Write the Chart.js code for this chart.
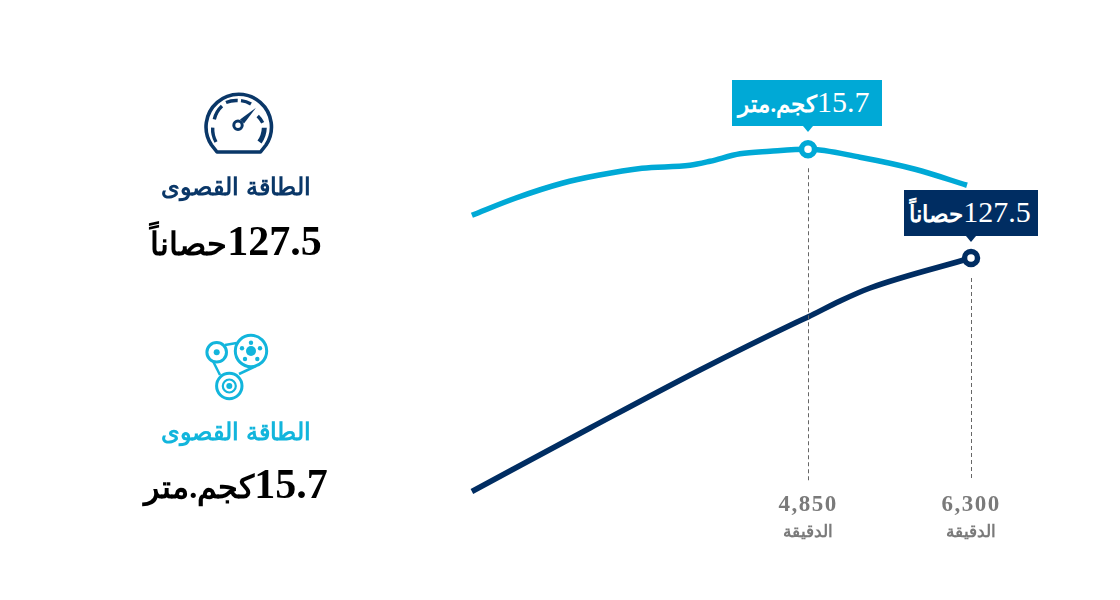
<!DOCTYPE html>
<html lang="ar">
<head>
<meta charset="utf-8">
<script src="https://cdn.jsdelivr.net/npm/chart.js@4"></script>
<style>
html,body{margin:0;padding:0;background:#fff;width:1120px;height:600px;overflow:hidden}
#wrap{position:relative;width:1120px;height:600px;font-family:"Liberation Serif","DejaVu Serif",serif}
canvas{position:absolute;left:0;top:0}
.abs{position:absolute;white-space:nowrap}
.title{left:86px;width:300px;text-align:center;font-weight:700;font-size:24.3px;line-height:30px}
.val{left:86px;width:300px;text-align:center;font-weight:700;font-size:42px;line-height:44px;color:#000}
.val .unit{font-size:32px}
.call{color:#fff;font-size:30px;line-height:43px;height:46px;text-align:center}
.call .unit{font-size:22.5px;font-weight:700}
.call i{position:absolute;left:50%;bottom:-6px;margin-left:-5px;width:0;height:0;border-left:5px solid transparent;border-right:5px solid transparent;border-top:6px solid currentColor}
.rpmunit{color:#7a7a7a;font-size:16.5px;font-weight:700;width:100px;text-align:center;line-height:20px;top:522px}
</style>
</head>
<body>
<div id="wrap">
<canvas id="c" width="1120" height="600"></canvas>

<svg class="abs" style="left:0;top:0" width="1120" height="600" fill="none">
  <g stroke="#0a3768" fill="none">
    <path d="M217 152 H260.5 L266 145 A32.7 32.7 0 1 0 211.5 145 Z" stroke-width="3.6" stroke-linejoin="round"/>
    <path d="M212.7 127.7 A26 26 0 0 0 216 142" stroke-width="3.4"/>
    <path d="M214.3 119.3 A26 26 0 0 1 222 106" stroke-width="3.4"/>
    <path d="M226 102.5 A26 26 0 0 1 237.7 100.5" stroke-width="3.4"/>
    <path d="M241 100.6 A26 26 0 0 1 251 104" stroke-width="3.4"/>
    <path d="M257.7 116 A26 26 0 0 1 262.7 122.7" stroke-width="3.4"/>
    <path d="M264.3 127.7 A26 26 0 0 1 259.5 142" stroke-width="5"/>
    <circle cx="238" cy="125.3" r="4.2" stroke-width="3"/>
  </g>
  <path d="M240 119.5 L256 107.7 L244 123.5 Z" fill="#0a3768"/>
  <g stroke="#12b5dc" fill="none" stroke-width="3">
    <circle cx="251" cy="351" r="15.7"/>
    <circle cx="216.7" cy="352.3" r="9.8"/>
    <circle cx="229.3" cy="386" r="12.7"/>
    <circle cx="229.3" cy="386" r="6.5" stroke-width="2.2"/>
    <path d="M225 345 L236.7 343" stroke-width="2.5"/>
    <path d="M213.3 361.7 L220 375" stroke-width="2.5"/>
    <path d="M239 374 L256 366" stroke-width="2.5"/>
  </g>
  <g fill="#12b5dc">
    <circle cx="216.7" cy="352.3" r="3"/>
    <circle cx="229.3" cy="386" r="3"/>
    <circle cx="251" cy="351" r="5"/>
    <circle cx="251" cy="342.7" r="2.2"/><circle cx="260" cy="348.3" r="2.2"/>
    <circle cx="257.3" cy="359" r="2.2"/><circle cx="245" cy="359" r="2.2"/>
    <circle cx="242" cy="348.3" r="2.2"/>
  </g>
</svg>

<div class="abs title" style="top:172px;color:#0a3768" dir="rtl">الطاقة القصوى</div>
<div class="abs val" style="top:219px" dir="rtl"><span class="num">127.5</span><span class="unit">حصاناً</span></div>
<div class="abs title" style="top:417px;color:#12b5dc" dir="rtl">الطاقة القصوى</div>
<div class="abs val" style="top:462px" dir="rtl"><span class="num">15.7</span><span class="unit">كجم.متر</span></div>

<div id="callTorque" class="abs call" style="width:144px;padding-right:6px;background:#00a9d6;color:#00a9d6" dir="rtl"><span style="color:#fff"><span class="num">15.7</span><span class="unit">كجم.متر</span></span><i style="left:76px"></i></div>
<div id="callPower" class="abs call" style="width:132px;padding-right:2px;background:#002d62;color:#002d62" dir="rtl"><span style="color:#fff"><span class="num">127.5</span><span class="unit">حصاناً</span></span><i style="left:67px"></i></div>
<div id="unitA" class="abs rpmunit" dir="rtl">الدقيقة</div>
<div id="unitB" class="abs rpmunit" dir="rtl">الدقيقة</div>
</div>

<script>
const rpmTorque   = [1860, 2245, 2662, 2982, 3373, 3800, 3978, 4245, 4512, 4850, 5312, 5802, 6264];
const torqueKgm   = [13.06, 13.74, 14.34, 14.66, 14.94, 15.06, 15.22, 15.52, 15.62, 15.7, 15.38, 14.9, 14.26];
const rpmPower    = [1860, 2911, 3889, 4734, 4850, 5135, 5402, 6300];
const powerHp     = [34.1, 59.5, 82.7, 101.5, 103.9, 110.3, 115.5, 127.5];
const tickRpm     = [4850, 6300];
const peakTorque  = {rpm: 4850, value: 15.7};
const peakPower   = {rpm: 6300, value: 127.5};

const TEAL = '#00a9d6', NAVY = '#002d62', GREY = '#7a7a7a';

const toPoints = (xs, ys) => xs.map((x, i) => ({x, y: ys[i]}));
const ringRadius = peakRpm => ctx => (ctx.raw && ctx.raw.x === peakRpm) ? 6.5 : 0;

const overlay = {
  id: 'overlay',
  beforeDraw(chart) { chart.ctx.letterSpacing = '1.5px'; },
  afterDatasetsDraw(chart) {
    const {x, yPower, yTorque} = chart.scales, c = chart.ctx;
    const drop = (rpm, yTop) => {
      c.save();
      c.beginPath();
      c.setLineDash([4, 3]);
      c.lineWidth = 1;
      c.strokeStyle = '#666';
      const px = Math.round(x.getPixelForValue(rpm)) + 0.5;
      c.moveTo(px, yTop);
      c.lineTo(px, 481);
      c.stroke();
      c.restore();
    };
    drop(peakTorque.rpm, yTorque.getPixelForValue(peakTorque.value) + 19);
    drop(peakPower.rpm, yPower.getPixelForValue(peakPower.value) + 20);
  },
  afterRender(chart) {
    const {x, yPower, yTorque} = chart.scales;
    const put = (id, rpm, w, top) => {
      const el = document.getElementById(id);
      el.style.left = (x.getPixelForValue(rpm) - w) + 'px';
      el.style.top = top + 'px';
    };
    put('callTorque', peakTorque.rpm, 76, yTorque.getPixelForValue(peakTorque.value) - 69);
    put('callPower', peakPower.rpm, 67, yPower.getPixelForValue(peakPower.value) - 68);
    put('unitA', tickRpm[0], 50, 522);
    put('unitB', tickRpm[1], 50, 522);
  }
};

new Chart(document.getElementById('c'), {
  type: 'line',
  data: {
    datasets: [
      {
        label: 'Torque', yAxisID: 'yTorque', data: toPoints(rpmTorque, torqueKgm),
        borderColor: TEAL, borderWidth: 5.5, cubicInterpolationMode: 'monotone', clip: false,
        pointRadius: ringRadius(peakTorque.rpm), pointHoverRadius: ringRadius(peakTorque.rpm),
        pointBackgroundColor: '#fff', pointBorderColor: TEAL, pointBorderWidth: 5.5
      },
      {
        label: 'Power', yAxisID: 'yPower', data: toPoints(rpmPower, powerHp),
        borderColor: NAVY, borderWidth: 5.5, cubicInterpolationMode: 'monotone', clip: false,
        pointRadius: ringRadius(peakPower.rpm), pointHoverRadius: ringRadius(peakPower.rpm),
        pointBackgroundColor: '#fff', pointBorderColor: NAVY, pointBorderWidth: 5.5
      }
    ]
  },
  options: {
    responsive: false,
    animation: false,
    events: [],
    layout: {padding: {left: 471.9, right: 126.5, top: 91.75, bottom: 68.25}},
    plugins: {legend: {display: false}, tooltip: {enabled: false}},
    scales: {
      x: {
        type: 'linear', min: 1860, max: 6500,
        grid: {display: false, drawTicks: false}, border: {display: false},
        afterBuildTicks(s) { s.ticks = tickRpm.map(value => ({value})); },
        afterFit(s) { s.height = 40; },
        ticks: {
          autoSkip: false, maxRotation: 0, padding: 0, color: GREY,
          font: {family: '"Liberation Serif"', size: 23, weight: 'bold'},
          callback: v => v.toLocaleString('en-US')
        }
      },
      yPower:  {display: false, min: 34, max: 194},
      yTorque: {display: false, min: 2, max: 18}
    }
  },
  plugins: [overlay]
});
</script>
</body>
</html>
